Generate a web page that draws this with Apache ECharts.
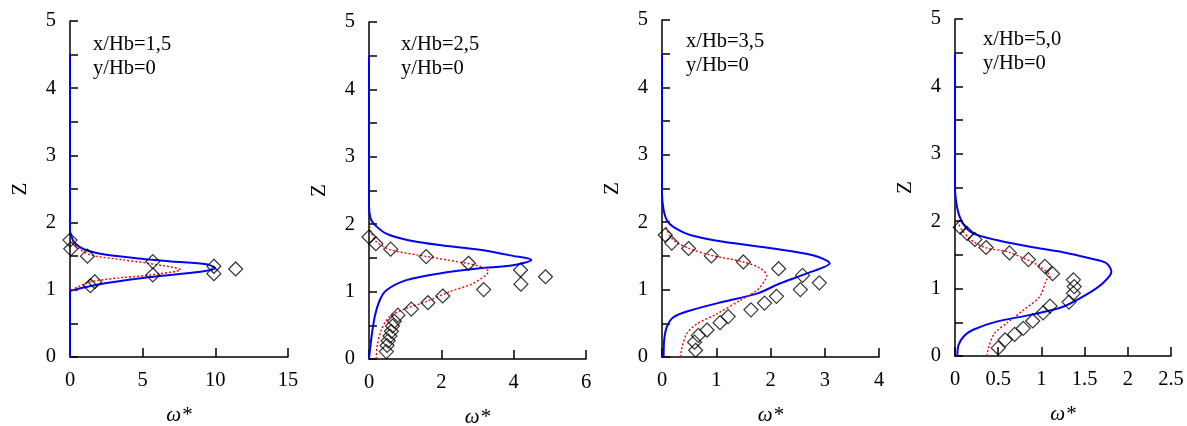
<!DOCTYPE html>
<html>
<head>
<meta charset="utf-8">
<script src="https://cdn.jsdelivr.net/npm/echarts@6/dist/echarts.min.js"></script>
<style>
html,body{margin:0;padding:0;background:#fff;}
#c{width:1187px;height:426px;}
</style>
</head>
<body>
<div id="c"></div>
<script>
// Panel labels
const panelLabels = ['x/Hb=1,5\ny/Hb=0', 'x/Hb=2,5\ny/Hb=0', 'x/Hb=3,5\ny/Hb=0', 'x/Hb=5,0\ny/Hb=0'];
// x-axis ranges / tick steps
const xMaxes = [15, 6, 4, 2.5];
const xSteps = [5, 2, 1, 0.5];

// Panel 1 (x/Hb=1.5): [omega*, z]
const p1Blue = [[0,0],[0,0.97],[0.3,1.0],[1.5,1.06],[2.5,1.1],[5.5,1.19],[9,1.27],[10,1.32],[9.4,1.38],[7,1.42],[5.5,1.45],[2.5,1.52],[1,1.6],[0.3,1.7],[0.1,1.8],[0,1.88],[0,4.5]];
const p1Red = [[0.1,0.99],[0.6,1.05],[1.4,1.12],[3.5,1.18],[5.5,1.22],[7.6,1.3],[5.5,1.39],[3.5,1.45],[1.4,1.52],[0.5,1.63],[0.1,1.75]];
const p1Exp = [[0,1.74],[0.05,1.61],[1.2,1.5],[5.7,1.42],[5.7,1.22],[1.7,1.12],[1.4,1.06],[9.9,1.35],[9.9,1.24],[11.4,1.31]];

// Panel 2 (x/Hb=2.5)
const p2Blue = [[0,0],[0.07,0.33],[0.16,0.63],[0.3,0.875],[0.48,1.02],[1.03,1.17],[1.95,1.27],[3.06,1.345],[3.98,1.39],[4.49,1.47],[3.98,1.53],[3.06,1.62],[1.95,1.69],[1.03,1.77],[0.48,1.86],[0.16,1.99],[0.04,2.09],[0,2.28],[0,4.5]];
const p2Red = [[0.2,0],[0.22,0.18],[0.34,0.43],[0.57,0.63],[1.03,0.75],[1.58,0.85],[2.23,1.0],[2.87,1.12],[3.3,1.3],[3.1,1.37],[2.7,1.42],[1.6,1.52],[0.6,1.62],[0.2,1.74],[0.05,1.9],[0,2.0]];
const p2Exp = [[0,1.81],[0.19,1.71],[0.6,1.63],[1.58,1.52],[2.75,1.42],[4.19,1.32],[4.88,1.22],[4.2,1.11],[3.17,1.03],[2.04,0.935],[1.63,0.835],[1.17,0.74],[0.8,0.65],[0.7,0.56],[0.65,0.49],[0.62,0.41],[0.58,0.34],[0.53,0.27],[0.5,0.2],[0.48,0.11]];

// Panel 3 (x/Hb=3.5)
const p3Blue = [[0.03,0],[0.04,0.25],[0.09,0.45],[0.21,0.59],[0.52,0.69],[1.13,0.82],[1.75,0.94],[2.17,1.09],[2.67,1.24],[3.09,1.39],[2.78,1.51],[2.05,1.61],[1.13,1.71],[0.52,1.81],[0.21,1.93],[0.09,2.03],[0.03,2.18],[0,2.43],[0,4.5]];
const p3Red = [[0.34,0],[0.37,0.15],[0.46,0.35],[0.64,0.49],[1.01,0.64],[1.44,0.84],[1.75,0.99],[1.9,1.14],[1.93,1.21],[1.8,1.32],[1.5,1.41],[0.9,1.51],[0.5,1.61],[0.2,1.74],[0.06,1.95]];
const p3Exp = [[0.06,1.81],[0.18,1.69],[0.49,1.61],[0.91,1.5],[1.5,1.41],[2.15,1.31],[2.59,1.21],[2.9,1.1],[2.55,1.0],[2.11,0.9],[1.89,0.8],[1.64,0.7],[1.22,0.6],[1.07,0.51],[0.83,0.4],[0.67,0.32],[0.6,0.22],[0.62,0.1]];

// Panel 4 (x/Hb=5.0)
const p4Blue = [[0.027,0],[0.04,0.16],[0.1,0.29],[0.21,0.39],[0.48,0.51],[0.87,0.61],[1.25,0.73],[1.52,0.91],[1.71,1.08],[1.81,1.25],[1.75,1.38],[1.56,1.45],[1.25,1.54],[0.87,1.62],[0.48,1.72],[0.21,1.82],[0.1,1.95],[0.04,2.12],[0.01,2.32],[0,2.5],[0,4.5]];
const p4Red = [[0.37,0],[0.39,0.14],[0.46,0.34],[0.6,0.49],[0.79,0.68],[0.98,0.88],[1.06,1.13],[1.1,1.18],[0.98,1.33],[0.83,1.43],[0.6,1.55],[0.37,1.6],[0.21,1.7],[0.08,1.87],[0.02,2.02]];
const p4Exp = [[0.06,1.91],[0.14,1.82],[0.23,1.73],[0.36,1.61],[0.63,1.53],[0.85,1.43],[1.04,1.33],[1.13,1.22],[1.37,1.13],[1.38,1.03],[1.37,0.93],[1.32,0.8],[1.1,0.74],[1.02,0.64],[0.9,0.52],[0.79,0.41],[0.69,0.32],[0.58,0.24],[0.5,0.12]];

const blues = [p1Blue, p2Blue, p3Blue, p4Blue];
const reds = [p1Red, p2Red, p3Red, p4Red];
const exps = [p1Exp, p2Exp, p3Exp, p4Exp];

const FONT = '"Liberation Serif", "Times New Roman", serif';
const FS = 20.5;
const grids = [
  {left: 70, top: 21, width: 218, height: 336, outerBoundsMode: 'none', containLabel: false},
  {left: 369, top: 22, width: 217, height: 337, outerBoundsMode: 'none', containLabel: false},
  {left: 662, top: 20, width: 217, height: 337, outerBoundsMode: 'none', containLabel: false},
  {left: 955, top: 19, width: 216, height: 337, outerBoundsMode: 'none', containLabel: false}
];
const labelPos = [[93, 33], [401, 33], [686, 30], [983, 28]];

const xAxes = [], yAxes = [], series = [], graphics = [];
for (let i = 0; i < 4; i++) {
  xAxes.push({
    type: 'value', gridIndex: i, min: 0, max: xMaxes[i], interval: xSteps[i],
    axisLine: {show: true, onZero: false, lineStyle: {color: '#000', width: 1.5}},
    axisTick: {show: true, inside: true, length: 9, lineStyle: {color: '#000', width: 1.5}},
    axisLabel: {color: '#000', fontFamily: FONT, fontSize: FS, margin: 13},
    splitLine: {show: false},
    name: 'ω*', nameLocation: 'middle', nameGap: 48,
    nameTextStyle: {color: '#000', fontFamily: FONT, fontSize: 21, fontStyle: 'italic'}
  });
  yAxes.push({
    type: 'value', gridIndex: i, min: 0, max: 5, interval: 0.5,
    axisLine: {show: true, onZero: false, lineStyle: {color: '#000', width: 1.5}},
    axisTick: {show: true, inside: true, length: 8, lineStyle: {color: '#000', width: 1.5}},
    axisLabel: {color: '#000', fontFamily: FONT, fontSize: FS, margin: 14,
      formatter: v => (Math.abs(v - Math.round(v)) < 1e-9 ? String(Math.round(v)) : '')},
    splitLine: {show: false},
    name: 'Z', nameLocation: 'middle', nameGap: 39, nameRotate: 90,
    nameTextStyle: {color: '#000', fontFamily: FONT, fontSize: 21}
  });
  series.push({
    type: 'line', xAxisIndex: i, yAxisIndex: i, data: blues[i], smooth: 0.3,
    showSymbol: false, clip: false, z: 3,
    lineStyle: {color: '#0000ff', width: 2}
  });
  series.push({
    type: 'line', xAxisIndex: i, yAxisIndex: i, data: reds[i], smooth: 0.3,
    showSymbol: false, clip: false, z: 4,
    lineStyle: {color: '#ff0000', width: 1.4, type: [2, 2]}
  });
  series.push({
    type: 'scatter', xAxisIndex: i, yAxisIndex: i, data: exps[i],
    symbol: 'diamond', symbolSize: 14, clip: false, z: 5,
    itemStyle: {color: 'rgba(255,255,255,0)', borderColor: '#000', borderWidth: 1.2}
  });
  graphics.push({
    type: 'text', left: labelPos[i][0], top: labelPos[i][1],
    style: {text: panelLabels[i], font: FS + 'px ' + FONT, fill: '#000', lineHeight: 24}
  });
}

const chart = echarts.init(document.getElementById('c'), null, {renderer: 'canvas'});
chart.setOption({
  animation: false,
  backgroundColor: '#fff',
  grid: grids,
  xAxis: xAxes,
  yAxis: yAxes,
  series: series,
  graphic: graphics
});
</script>
</body>
</html>
